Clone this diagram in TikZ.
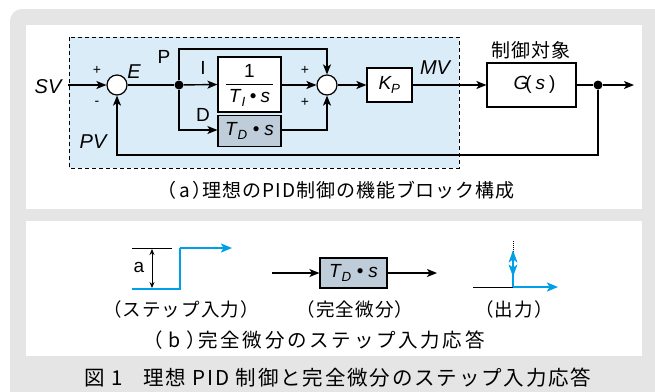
\documentclass[tikz,border=0pt]{standalone}
\usepackage{fontspec}
\setmainfont{Liberation Sans}
\newfontfamily\jpa[LetterSpace=5]{Noto Sans CJK JP}
\newfontfamily\jpb[LetterSpace=14]{Noto Sans CJK JP}
\newfontfamily\jpt[LetterSpace=9]{Noto Sans CJK JP}
\newfontfamily\jpl[LetterSpace=6]{Noto Sans CJK JP}
\usetikzlibrary{arrows.meta,calc}
\definecolor{bgray}{HTML}{E5E5E5}
\definecolor{lblue}{HTML}{DBECF9}
\definecolor{tdfill}{HTML}{BFCCD9}
\definecolor{cyanb}{HTML}{00A0E9}
\newcommand{\tds}{\textit{T}\textsubscript{\textit{D}}\hspace{5pt}•\hspace{5pt}\textit{s}}
\tikzset{
  x=1pt,y=-1pt,
  line/.style={line width=1.4pt,draw=black},
  arr/.style={line,-{Stealth[length=10pt,width=8pt,inset=2.5pt]}},
  blk/.style={draw=black,line width=1.2pt,fill=white,minimum width=#1,inner sep=0pt},
  sumj/.style={circle,draw=black,line width=1.2pt,fill=white,minimum size=20pt,inner sep=0pt},
  dotn/.style={circle,fill=black,minimum size=9pt,inner sep=0pt},
  lbl/.style={font=\fontsize{19}{21}\selectfont,inner sep=0pt},
  ilbl/.style={font=\fontsize{20}{22}\selectfont\itshape,inner sep=0pt},
  sgn/.style={font=\fontsize{14}{16}\selectfont,inner sep=0pt},
  jplab/.style={font=\jpl\fontsize{18.5}{20}\selectfont,inner sep=0pt},
  barr/.style={line width=2pt,draw=cyanb,-{Stealth[length=11pt,width=9pt,inset=2.5pt]}},
}
\begin{document}
\begin{tikzpicture}
\useasboundingbox (0,0) rectangle (655,391);
% backgrounds
\fill[white] (0,0) rectangle (655,391);
\fill[bgray,rounded corners=12pt] (10,9) rectangle (670,420);
\fill[white] (26,25) rectangle (642,209);
\fill[white] (26,221) rectangle (642,356);
\draw[line width=1pt,fill=lblue,dash pattern=on 4pt off 3pt] (69,37) rectangle (459,168);

% ---------- panel (a) ----------
\node[sumj] (sj1) at (117,85) {};
\node[dotn] (d1) at (179,85) {};
\node[blk=63pt,minimum height=55pt] (ib) at (249.5,84.5) {};
\node[lbl] (one) at (249.5,71) {1};
\node[lbl] (tis) at (249.5,98) {\textit{T}\textsubscript{\textit{I}}\hspace{4pt}•\hspace{4pt}\textit{s}};
\draw[line width=1pt] (226,84.5) -- (273,84.5);
\node[blk=63pt,minimum height=31pt,fill=tdfill] (td) at (249.5,131) {\fontsize{19}{21}\selectfont\tds};
\node[sumj] (sj2) at (327,85) {};
\node[blk=45pt,minimum height=34pt] (kp) at (389.5,85) {\fontsize{19}{21}\selectfont\textit{K}\kern-1pt\textsubscript{\textit{P}}};
\node[blk=89pt,minimum height=44pt] (g) at (531.5,85) {\fontsize{19}{21}\selectfont\hspace{6pt}\textit{G}\kern-3pt(\hspace{4pt}\textit{s}\hspace{4pt})};
\node[dotn] (d2) at (598,85) {};
\coordinate (sv) at (68,85);
\coordinate (out) at (634,85);
\coordinate (pt) at (179,49);
\coordinate (dt) at (179,130);
\coordinate (fb) at (598,155);

\draw[arr] (sv) -- (sj1.west);
\draw[line] (sj1.east) -- (d1);
\draw[arr] (d1) -- (ib.west);
\draw[arr] (d1) -- (pt) -| (sj2.north);
\draw[arr] (d1) -- (dt) -- (td.west |- dt);
\draw[arr] (td.east |- dt) -| (sj2.south);
\draw[arr] (ib.east |- sj2) -- (sj2.west);
\draw[arr] (sj2.east) -- (kp.west);
\draw[arr] (kp.east) -- (g.west);
\draw[line] (g.east) -- (d2);
\draw[arr] (d2) -- (out);
\draw[arr] (d2) -- (fb) -| (sj1.south);

\node[ilbl] (svl) at (48,87) {SV};
\node[ilbl] (pvl) at (93,142) {PV};
\node[ilbl] (el) at (134,72) {E};
\node[ilbl] (mvl) at (435,68) {MV};
\node[lbl] (pl) at (164,57) {P};
\node[lbl] (il) at (203,68) {I};
\node[lbl] (dl) at (203,115) {D};
\node[sgn] (p1) at (97,70) {+};
\node[sgn] (m1) at (97,103) {-};
\node[sgn] (p2) at (305,70) {+};
\node[sgn] (p3) at (305,102) {+};
\node[inner sep=0pt,font=\jpa\fontsize{19}{21}\selectfont] (ctl) at (531,50) {制御対象};
\node[inner sep=0pt,font=\jpa\fontsize{19}{21}\selectfont] (capa) at (336,190) {（\hspace{3pt}a\hspace{3pt}）\kern-9pt理想のPID制御の機能ブロック構成};

% ---------- panel (b) ----------
\coordinate (a1) at (132,248);
\coordinate (a2) at (172,248);
\coordinate (s0) at (132,289);
\coordinate (s1) at (180,289);
\coordinate (s2) at (180,248);
\coordinate (s3) at (232,248);
\draw[line width=1pt] (a1) -- (a2);
\draw[line width=2pt,draw=cyanb] (s0) -- (s1) -- (s2);
\draw[barr] (s2) -- (s3);
\draw[line width=1pt,{Stealth[length=6pt,width=5pt]}-{Stealth[length=6pt,width=5pt]}] (152,249) -- (152,288);
\node[lbl] (al) at (139,267) {a};

\node[blk=67pt,minimum height=30pt,fill=tdfill] (td2) at (353.5,273) {\fontsize{19}{21}\selectfont\tds};
\coordinate (in2) at (272,273);
\coordinate (out2) at (437,273);
\draw[arr] (in2) -- (td2.west);
\draw[arr] (td2.east) -- (out2);

\coordinate (o0) at (473,287);
\coordinate (o1) at (513,287);
\coordinate (o2) at (513,252);
\coordinate (o3) at (558,287);
\coordinate (o4) at (513,240);
\draw[line width=1pt] (o0) -- (o1);
\draw[line width=1pt,densely dotted] (o2) -- (o4);
\draw[line width=2pt,draw=cyanb] (o1) -- (o2);
\draw[draw=cyanb,fill=cyanb] (513,251) -- (509,262) -- (513,259) -- (517,262) -- cycle;
\draw[draw=cyanb,fill=cyanb] (513,276) -- (509,265) -- (513,268) -- (517,265) -- cycle;
\draw[barr] (o1) -- (o3);

\node[jplab] (c1) at (181,309) {（ステップ入力）};
\node[jplab] (c2) at (355,309) {（完全微分）};
\node[jplab] (c3) at (514,309) {（出力）};
\node[inner sep=0pt,font=\jpb\fontsize{19.5}{21}\selectfont] (capb) at (314,340) {（\hspace{6pt}b\hspace{6pt}）\kern-8pt完全微分のステップ入力応答};
\node[inner sep=0pt,font=\jpt\fontsize{20.5}{23}\selectfont] (title) at (338,378) {図 1\quad 理想 PID 制御と完全微分のステップ入力応答};
\end{tikzpicture}
\end{document}
